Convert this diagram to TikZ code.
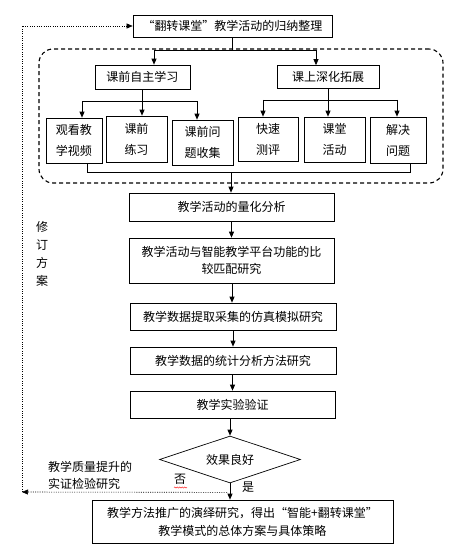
\documentclass[tikz,border=0pt]{standalone}
\usepackage{fontspec}
\newfontfamily\cjk{Noto Sans CJK SC}
\usetikzlibrary{arrows.meta,shapes.geometric,decorations.pathmorphing}
\begin{document}
\begin{tikzpicture}[x=1pt,y=-1pt,
  box/.style={draw,line width=0.7pt,inner sep=0pt,align=center,font=\cjk\fontsize{12}{17}\selectfont},
  sbox/.style={box,font=\cjk\fontsize{12}{21}\selectfont},
  tip/.style={-{Triangle[length=6pt,width=5pt]}},
  arr/.style={line width=0.7pt,tip},
  ln/.style={line width=0.7pt},
  dot/.style={line width=0.6pt,dash pattern=on 1pt off 1.3pt},
  lbl/.style={font=\cjk\fontsize{12}{17}\selectfont,inner sep=0pt}]
\useasboundingbox (0,0) rectangle (461,550);
\fill[white] (0,0) rectangle (461,550);

% top
\node[box,minimum width=199pt,minimum height=22pt] (top) at (232.5,26) {“翻转课堂”教学活动的归纳整理};
% dashed group
\node[draw,line width=1.1pt,dash pattern=on 4pt off 3pt,rounded corners=14pt,minimum width=404pt,minimum height=134pt] (grp) at (241,116) {};
\node[box,minimum width=95pt,minimum height=24pt] (pre) at (142.5,77) {课前自主学习};
\node[box,minimum width=102pt,minimum height=23pt] (inc) at (328,77) {课上深化拓展};

\node[sbox,minimum width=56pt,minimum height=45pt] (a1) at (74,140.5) {观看教\\学视频};
\node[sbox,minimum width=61pt,minimum height=46pt] (a2) at (136.5,139) {课前\\练习};
\node[sbox,minimum width=61pt,minimum height=45pt] (a3) at (202.5,142.5) {课前问\\题收集};
\node[sbox,minimum width=60pt,minimum height=44pt] (b1) at (268,139) {快速\\测评};
\node[sbox,minimum width=61pt,minimum height=45pt] (b2) at (334.5,139.5) {课堂\\活动};
\node[sbox,minimum width=56pt,minimum height=46pt] (b3) at (398,140) {解决\\问题};

% connectors in group
\draw[ln] (top.south) -- ++(0,13) coordinate (tj);
\draw[ln] ([xshift=11.5pt]pre.north |- tj) -- ([xshift=-12pt]inc.north |- tj);
\draw[arr] ([xshift=11.5pt]pre.north |- tj) -- ([xshift=11.5pt]pre.north);
\draw[arr] ([xshift=-12pt]inc.north |- tj) -- ([xshift=-12pt]inc.north);

\draw[ln] (pre.south) -- ++(0,12) coordinate (pj);
\draw[ln] ([xshift=8pt]a1.north |- pj) -- ([xshift=-5.5pt]a3.north |- pj);
\draw[arr] ([xshift=8pt]a1.north |- pj) -- ([xshift=8pt]a1.north);
\draw[arr] ([xshift=5.5pt]a2.north |- pj) -- ([xshift=5.5pt]a2.north);
\draw[arr] ([xshift=-5.5pt]a3.north |- pj) -- ([xshift=-5.5pt]a3.north);

\draw[ln] (inc.south) -- ++(0,11) coordinate (ij);
\draw[ln] ([xshift=-5pt]b1.north |- ij) -- ([xshift=-1pt]b3.north |- ij);
\draw[arr] ([xshift=-5pt]b1.north |- ij) -- ([xshift=-5pt]b1.north);
\draw[arr] ([xshift=-6.5pt]b2.north |- ij) -- ([xshift=-6.5pt]b2.north);
\draw[arr] ([xshift=-1pt]b3.north |- ij) -- ([xshift=-1pt]b3.north);

\coordinate (bl) at (231,172);
\draw[ln] ([xshift=13pt]a1.south) -- ([xshift=13pt]a1.south |- bl) -| ([xshift=12pt]b3.south);

% main chain
\node[box,minimum width=205pt,minimum height=28pt] (q1) at (231.5,207) {教学活动的量化分析};
\node[box,minimum width=205pt,minimum height=45pt] (q2) at (231.5,260.5) {教学活动与智能教学平台功能的比\\较匹配研究};
\node[box,minimum width=206pt,minimum height=27pt] (q3) at (233,316.5) {教学数据提取采集的仿真模拟研究};
\node[box,minimum width=206pt,minimum height=27pt] (q4) at (233,360.5) {教学数据的统计分析方法研究};
\node[box,minimum width=205pt,minimum height=27pt] (q5) at (232.5,404.5) {教学实验验证};
\node[draw,diamond,aspect=3,line width=0.7pt,inner sep=0pt,minimum width=141pt,minimum height=47pt,font=\cjk\fontsize{12}{17}\selectfont] (dia) at (230,459.5) {效果良好};
\node[box,minimum width=301pt,minimum height=43pt,font=\cjk\fontsize{12}{18}\selectfont] (fin) at (242.5,521.5) {教学方法推广的演绎研究，得出“智能+翻转课堂”\\教学模式的总体方案与具体策略};

\draw[arr] (bl) -- (bl |- q1.north);
\draw[arr] (q1.south) -- (q1.south |- q2.north);
\draw[arr] ([xshift=0.5pt]q2.south) -- ([xshift=0.5pt]q2.south |- q3.north);
\draw[arr] (q3.south) -- (q3.south |- q4.north);
\draw[arr] ([xshift=-0.5pt]q4.south) -- ([xshift=-0.5pt]q4.south |- q5.north);
\draw[arr] (dia.north |- q5.south) -- (dia.north);
\draw[arr] (dia.south) -- (dia.south |- fin.north);

% feedback
\path (dia.south) ++(-3,9) coordinate (br);
\coordinate (fb) at (22,492);
\draw[dot,tip] (br) -- (fb);
\draw[dot,tip] (fb) |- (top.west);

% labels
\node[lbl,align=center,font=\cjk\fontsize{12}{18}\selectfont] (rev) at (42,254) {修\\订\\方\\案};
\node[lbl] (no) at (180,479) {否};
\draw[red,line width=0.4pt,decorate,decoration={snake,amplitude=0.6pt,segment length=2.5pt}] (174,487.5) -- (187,487.5);
\node[lbl] (yes) at (248,487) {是};
\node[lbl,align=left,anchor=west] (qual) at (48,475.5) {教学质量提升的\\实证检验研究};
\end{tikzpicture}
\end{document}
